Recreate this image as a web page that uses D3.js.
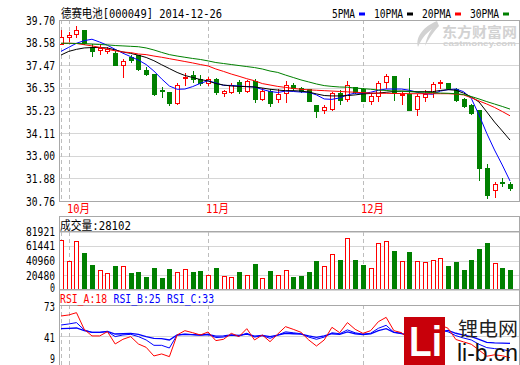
<!DOCTYPE html>
<html>
<head>
<meta charset="utf-8">
<script src="https://d3js.org/d3.v7.min.js"></script>
<style>
  body { margin: 0; background: #fff; }
  svg { display: block; }
</style>
</head>
<body>
<div id="chart"></div>
<script>

// daily bars, 2014-09-30 .. 2014-12-26
var opens = [38.51, 38.85, 39.01, 39.21, 38.35, 38.22, 38.15, 38.06, 37.46, 37.89,
  37.96, 37.23, 37.03, 36.24, 36.14, 35.59, 36.84, 36.97, 36.77, 36.60,
  36.79, 36.11, 36.16, 36.64, 36.21, 36.70, 35.78, 36.21, 35.81, 36.08,
  36.50, 36.34, 36.28, 35.49, 35.25, 35.32, 36.11, 35.78, 36.38, 36.28,
  35.70, 35.96, 36.62, 36.95, 35.98, 36.03, 35.30, 35.90, 36.13, 36.59,
  36.59, 36.29, 35.80, 35.50, 35.24, 32.38, 31.29, 31.71, 31.61];
var highs = [39.22, 39.11, 39.39, 39.21, 38.51, 38.45, 38.38, 38.15, 37.76, 37.99,
  37.97, 37.36, 37.03, 36.38, 36.14, 36.57, 37.07, 37.17, 36.97, 36.90,
  36.84, 36.24, 36.57, 36.74, 36.74, 36.77, 36.33, 36.28, 36.28, 36.67,
  36.57, 36.38, 36.31, 35.49, 35.49, 36.14, 36.24, 36.70, 36.41, 36.33,
  36.03, 36.69, 37.02, 36.95, 36.13, 36.85, 36.03, 36.23, 36.62, 36.75,
  36.59, 36.33, 35.83, 35.57, 35.24, 32.57, 31.68, 31.88, 31.68];
var lows = [38.51, 38.65, 38.85, 38.51, 37.91, 38.02, 38.06, 37.49, 36.90, 37.63,
  37.25, 36.99, 36.01, 35.91, 35.49, 35.55, 36.50, 36.64, 36.49, 36.49,
  36.04, 35.95, 36.08, 36.08, 36.14, 35.66, 35.75, 35.45, 35.66, 35.66,
  36.24, 36.14, 35.68, 34.92, 35.09, 35.25, 35.55, 35.71, 36.08, 35.70,
  35.57, 35.70, 36.36, 35.76, 35.54, 35.24, 35.01, 35.70, 35.90, 36.33,
  36.29, 35.70, 35.40, 35.07, 31.81, 30.92, 30.96, 31.52, 31.29];
var closes = [38.85, 38.97, 39.21, 38.58, 38.15, 38.32, 38.28, 37.49, 37.66, 37.72,
  37.29, 37.03, 36.04, 36.18, 35.59, 36.47, 36.90, 36.80, 36.60, 36.77,
  36.14, 36.19, 36.47, 36.21, 36.67, 35.81, 36.19, 35.62, 36.06, 36.47,
  36.34, 36.19, 35.71, 35.22, 35.42, 36.08, 35.75, 36.47, 36.14, 35.72,
  35.93, 36.59, 36.92, 36.09, 36.03, 35.27, 35.93, 36.03, 36.52, 36.65,
  36.36, 35.73, 35.47, 35.11, 32.40, 31.06, 31.58, 31.65, 31.42];

var volumes = [70350, 39700, 68950, 51260, 34130, 27160, 22980, 32740, 32740, 22980,
  24800, 17830, 29950, 16440, 28560, 24380, 28560, 24800, 25770, 21170,
  29950, 18810, 17410, 24380, 21170, 35520, 15600, 25770, 21170, 27160,
  17410, 18810, 24380, 39700, 33710, 50840, 41090, 72710, 41090, 34130,
  30920, 66170, 68540, 55020, 40680, 53630, 40680, 38310, 42070, 44850,
  32740, 38310, 27160, 41090, 57810, 66170, 37890, 29950, 28102];

// moving averages as shown on the chart
var ma5 = [38.15, 38.35, 38.55, 38.68, 38.75, 38.61, 38.45, 38.25, 38.06, 37.89,
  37.72, 37.50, 37.18, 36.79, 36.44, 36.28, 36.29, 36.41, 36.57, 36.70,
  36.59, 36.47, 36.47, 36.44, 36.41, 36.39, 36.27, 36.17, 36.12, 36.19,
  36.17, 36.14, 36.13, 36.00, 35.80, 35.78, 35.85, 36.00, 36.09, 36.07,
  36.13, 36.23, 36.29, 36.29, 36.29, 36.23, 36.13, 36.06, 36.03, 36.19,
  36.26, 36.29, 36.16, 35.83, 35.01, 34.10, 33.28, 32.54, 31.75];
var ma10 = [37.97, 38.15, 38.25, 38.32, 38.34, 38.34, 38.32, 38.22, 38.12, 38.05,
  37.96, 37.85, 37.69, 37.49, 37.30, 37.11, 36.96, 36.86, 36.76, 36.69,
  36.56, 36.49, 36.44, 36.42, 36.41, 36.39, 36.34, 36.28, 36.24, 36.21,
  36.21, 36.19, 36.14, 36.05, 35.97, 35.95, 35.95, 35.97, 36.00, 36.05,
  36.07, 36.09, 36.13, 36.17, 36.19, 36.18, 36.16, 36.16, 36.16, 36.22,
  36.26, 36.23, 36.09, 35.90, 35.65, 35.16, 34.66, 34.22, 33.77];
var ma20 = [38.55, 38.55, 38.54, 38.48, 38.42, 38.35, 38.25, 38.18, 38.12, 38.09,
  38.02, 37.99, 37.92, 37.86, 37.79, 37.72, 37.65, 37.58, 37.50, 37.43,
  37.28, 37.16, 37.03, 36.92, 36.80, 36.70, 36.56, 36.49, 36.42, 36.37,
  36.32, 36.28, 36.25, 36.23, 36.21, 36.19, 36.17, 36.15, 36.13, 36.11,
  36.09, 36.08, 36.08, 36.07, 36.07, 36.06, 36.06, 36.06, 36.06, 36.06,
  36.06, 36.04, 36.00, 35.86, 35.70, 35.55, 35.38, 35.18, 34.97];
var ma30 = [38.55, 38.55, 38.54, 38.53, 38.51, 38.49, 38.47, 38.44, 38.42, 38.40,
  38.38, 38.32, 38.22, 38.10, 37.99, 37.92, 37.86, 37.80, 37.75, 37.68,
  37.60, 37.55, 37.50, 37.45, 37.40, 37.35, 37.28, 37.18, 37.11, 36.98,
  36.86, 36.74, 36.64, 36.54, 36.46, 36.42, 36.39, 36.38, 36.34, 36.31,
  36.28, 36.24, 36.22, 36.19, 36.18, 36.16, 36.14, 36.13, 36.11, 36.09,
  36.08, 36.06, 36.02, 35.92, 35.80, 35.67, 35.55, 35.43, 35.30];

var rsiA = [61.5, 62.6, 65.0, 47.6, 40.7, 40.7, 45.2, 32.3, 37.2, 40.0,
  32.3, 28.8, 19.8, 21.9, 19.1, 41.7, 46.2, 44.1, 41.7, 44.8,
  35.8, 37.2, 43.4, 40.0, 48.3, 36.5, 41.7, 34.7, 42.7, 50.4,
  47.6, 44.5, 36.5, 30.2, 36.5, 49.7, 44.1, 54.6, 47.6, 43.4,
  46.2, 55.6, 60.1, 46.2, 44.1, 36.0, 44.0, 46.0, 50.0, 52.0,
  48.7, 37.0, 34.5, 32.0, 26.0, 19.5, 21.0, 20.0, 18.0];
var rsiB = [52.1, 53.2, 54.6, 46.9, 44.5, 44.5, 45.2, 40.0, 41.7, 42.4,
  40.0, 36.5, 30.9, 30.9, 28.1, 41.7, 42.7, 42.0, 41.5, 42.5,
  39.0, 39.5, 41.5, 40.5, 43.5, 39.5, 41.0, 38.2, 41.5, 45.0,
  44.0, 43.0, 39.5, 37.2, 39.5, 44.0, 43.0, 47.0, 44.0, 42.5,
  43.5, 48.7, 51.8, 44.5, 43.5, 40.0, 42.5, 43.5, 45.5, 47.0,
  45.0, 41.0, 38.5, 36.5, 32.0, 28.5, 27.5, 26.5, 25.0];
var rsiC = [48.3, 48.6, 49.0, 46.2, 44.5, 44.5, 45.5, 42.7, 43.0, 43.4,
  42.4, 40.0, 38.2, 37.8, 36.5, 41.7, 42.4, 42.0, 41.7, 42.2,
  40.5, 40.8, 41.7, 41.2, 42.7, 40.6, 41.2, 40.0, 41.5, 43.5,
  43.0, 42.5, 40.8, 39.3, 40.8, 43.0, 42.3, 45.0, 43.0, 42.2,
  42.8, 46.2, 48.3, 44.5, 43.0, 41.0, 42.3, 42.8, 44.0, 45.0,
  46.5, 43.5, 41.5, 40.0, 37.0, 34.0, 33.5, 33.2, 33.0];

var priceTicks = [39.70, 38.58, 37.47, 36.35, 35.23, 34.11, 33.00, 31.88, 30.76];
var volTicks = [81921, 61441, 40960, 20480, 0];
var rsiTicks = [73, 41, 9];

var dividerIdx = [0, 1, 19, 39];
var monthIdx = [1, 19, 39];
var monthLabels = ["10月", "11月", "12月"];

var maNames = ["5PMA", "10PMA", "20PMA", "30PMA"];
var maColors = ["#0000ff", "#000000", "#ff0000", "#008000"];

var titleText = "德赛电池[000049] 2014-12-26";

var RED = "#ff0000", GREEN = "#008000", BLUE = "#0000ff";
var FRAME = "#a8a8a8", GRID = "#d6d6d6", DASH = "#bdbdbd";
var FONT = "'DejaVu Sans Mono', 'Noto Sans CJK SC', monospace";

var W = 520, H = 365;
var L = 59, R = 519;

var svg = d3.select("#chart").append("svg")
    .attr("width", W)
    .attr("height", H)
    .style("font-family", FONT);

svg.append("rect").attr("width", W).attr("height", H).attr("fill", "#fff");

// scales
var x = d3.scalePoint().domain(d3.range(closes.length)).range([61, 510]);
var yP = d3.scaleLinear().domain([30.76, 39.70]).range([201, 20]);
var yV = d3.scaleLinear().domain([0, 81921]).range([289.5, 231.5]);
var yR = d3.scaleLinear().domain([9, 73]).range([366.3, 305]);

// text of a pixel font: wide chars 12px, narrow ones 6px
function textW(s) {
  var w = 0;
  for (var c of s) w += c.charCodeAt(0) > 255 ? 12 : 6;
  return w;
}
function label(g, s, tx, ty, color, anchor) {
  return g.append("text")
    .attr("x", tx).attr("y", ty)
    .attr("fill", color || "#000")
    .attr("text-anchor", anchor || "start")
    .attr("font-size", 12)
    .attr("textLength", textW(s) - 1)
    .attr("lengthAdjust", "spacingAndGlyphs")
    .text(s);
}
function px(i) { return Math.round(x(i)); }

var grid = svg.append("g").attr("shape-rendering", "crispEdges");

// horizontal gridlines
priceTicks.forEach(function(t) {
  grid.append("line").attr("x1", L).attr("x2", R)
    .attr("y1", Math.round(yP(t)) + 0.5).attr("y2", Math.round(yP(t)) + 0.5)
    .attr("stroke", GRID);
});
volTicks.forEach(function(t) {
  grid.append("line").attr("x1", L).attr("x2", R)
    .attr("y1", Math.round(yV(t)) + 0.5).attr("y2", Math.round(yV(t)) + 0.5)
    .attr("stroke", GRID);
});
grid.append("line").attr("x1", L).attr("x2", R)
  .attr("y1", Math.round(yR(41)) + 0.5).attr("y2", Math.round(yR(41)) + 0.5)
  .attr("stroke", GRID);

// month dividers in every panel
var spans = [[20, 201], [232, 289], [305, 365]];
dividerIdx.forEach(function(i) {
  spans.forEach(function(s) {
    grid.append("line")
      .attr("x1", px(i) + 0.5).attr("x2", px(i) + 0.5)
      .attr("y1", s[0]).attr("y2", s[1])
      .attr("stroke", DASH).attr("stroke-dasharray", "4,3");
  });
});

// eastmoney watermark, inside the price panel
var wm = svg.append("g").attr("fill", "#d2d2d2");
wm.append("path").attr("d", "M437,21 C424,26 415,37 418,47 C421,40 425,34 432,29 C428,34 426,40 425,46 C430,37 434,31 439,26 Z");
wm.append("text").attr("x", 442).attr("y", 36.5)
  .attr("font-size", 14).attr("font-weight", "bold")
  .attr("font-family", "'Noto Sans CJK SC', sans-serif")
  .attr("textLength", 75).attr("lengthAdjust", "spacingAndGlyphs")
  .text("东方财富网");
wm.append("text").attr("x", 443).attr("y", 46)
  .attr("font-size", 8).attr("font-weight", "bold")
  .attr("font-family", "'Liberation Sans', sans-serif")
  .attr("textLength", 73).attr("lengthAdjust", "spacingAndGlyphs")
  .text("eastmoney.com");

// candles
var cg = svg.append("g").attr("shape-rendering", "crispEdges");
closes.forEach(function(c, i) {
  var o = opens[i], up = c >= o, cx = px(i);
  var col = up ? RED : GREEN;
  cg.append("line")
    .attr("x1", cx + 0.5).attr("x2", cx + 0.5)
    .attr("y1", Math.round(yP(highs[i]))).attr("y2", Math.round(yP(lows[i])) + 1)
    .attr("stroke", col);
  var top = Math.round(yP(Math.max(o, c))), bot = Math.round(yP(Math.min(o, c)));
  if (up) {
    cg.append("rect")
      .attr("x", cx - 1.5).attr("y", top + 0.5)
      .attr("width", 4).attr("height", Math.max(bot - top, 1))
      .attr("fill", "#fff").attr("stroke", RED);
  } else {
    cg.append("rect")
      .attr("x", cx - 2).attr("y", top)
      .attr("width", 5).attr("height", Math.max(bot - top, 1) + 1)
      .attr("fill", GREEN);
  }
});

// moving average lines
var maLine = d3.line().x(function(d, i) { return x(i); }).y(function(d) { return yP(d); });
[ma5, ma10, ma20, ma30].forEach(function(s, k) {
  svg.append("path").datum(s)
    .attr("fill", "none")
    .attr("stroke", maColors[k])
    .attr("stroke-width", 1)
    .attr("d", maLine);
});

// volume bars
var vg = svg.append("g").attr("shape-rendering", "crispEdges");
volumes.forEach(function(v, i) {
  var up = closes[i] >= opens[i], cx = px(i);
  var top = Math.round(yV(v)), bot = Math.round(yV(0));
  if (up) {
    vg.append("rect")
      .attr("x", cx - 1.5).attr("y", top + 0.5)
      .attr("width", 4).attr("height", bot - top - 1)
      .attr("fill", "#fff").attr("stroke", RED);
  } else {
    vg.append("rect")
      .attr("x", cx - 2).attr("y", top)
      .attr("width", 5).attr("height", bot - top)
      .attr("fill", GREEN);
  }
});

// RSI lines
svg.append("clipPath").attr("id", "rsiClip")
  .append("rect").attr("x", L).attr("y", 305).attr("width", R - L).attr("height", 60);
var rsiLine = d3.line().x(function(d, i) { return x(i); }).y(function(d) { return yR(d); });
var rg = svg.append("g").attr("clip-path", "url(#rsiClip)");
[[rsiC, BLUE, 1.3], [rsiB, BLUE, 1], [rsiA, RED, 1]].forEach(function(s) {
  rg.append("path").datum(s[0])
    .attr("fill", "none")
    .attr("stroke", s[1])
    .attr("stroke-width", s[2])
    .attr("d", rsiLine);
});

// panel frames
var fr = svg.append("g").attr("shape-rendering", "crispEdges")
  .attr("stroke", FRAME).attr("fill", "none");
fr.append("rect").attr("x", L + 0.5).attr("y", 20.5).attr("width", R - L).attr("height", 181);
fr.append("rect").attr("x", L + 0.5).attr("y", 216.5).attr("width", R - L).attr("height", 73);
fr.append("line").attr("x1", L).attr("x2", R).attr("y1", 231.5).attr("y2", 231.5);
fr.append("line").attr("x1", L + 0.5).attr("x2", L + 0.5).attr("y1", 289).attr("y2", H);
fr.append("line").attr("x1", R + 0.5).attr("x2", R + 0.5).attr("y1", 289).attr("y2", H);
fr.append("line").attr("x1", L).attr("x2", R).attr("y1", 305.5).attr("y2", 305.5);

// axis labels
var ax = svg.append("g");
priceTicks.forEach(function(t) {
  label(ax, t.toFixed(2), 55, yP(t) + 4.5, "#000", "end");
});
volTicks.forEach(function(t) {
  var ty = t === 0 ? yV(t) - 2.5 : yV(t);
  label(ax, String(t), 55, ty + 4.5, "#000", "end");
});
rsiTicks.forEach(function(t) {
  var ty = t === 9 ? 358.5 : yR(t) + 1.5;
  label(ax, String(t), 55, ty + 4.5, "#000", "end");
});
monthIdx.forEach(function(i, k) {
  label(ax, monthLabels[k], px(i) - 2, 213, RED);
});

// titles and legend
label(svg, titleText, 61, 18);
var lx = [332, 374, 422, 470];
maNames.forEach(function(n, k) {
  label(svg, n, lx[k], 18);
  svg.append("rect")
    .attr("x", lx[k] + textW(n) + 3).attr("y", 12.5)
    .attr("width", 6).attr("height", 3)
    .attr("fill", maColors[k]);
});
label(svg, "成交量:" + volumes[volumes.length - 1], 60, 230);
var rsiTitles = [["RSI_A:18", RED], ["RSI_B:25", BLUE], ["RSI_C:33", BLUE]];
rsiTitles.forEach(function(t, k) {
  label(svg, t[0], 60 + k * 53.5, 303, t[1]);
});

// li-b.cn watermark
var lb = svg.append("g");
lb.append("rect").attr("x", 404).attr("y", 317).attr("width", 41).attr("height", 48)
  .attr("fill", "#c8000a");
lb.append("text").attr("x", 409).attr("y", 356)
  .attr("font-size", 42).attr("font-weight", "bold")
  .attr("font-family", "'Liberation Sans', sans-serif")
  .attr("fill", "#fff")
  .attr("textLength", 33).attr("lengthAdjust", "spacingAndGlyphs")
  .text("Li");
lb.append("text").attr("x", 458).attr("y", 336)
  .attr("font-size", 19)
  .attr("font-family", "'Noto Sans CJK SC', sans-serif")
  .attr("fill", "#222")
  .attr("textLength", 60).attr("lengthAdjust", "spacingAndGlyphs")
  .text("锂电网");
lb.append("text").attr("x", 457).attr("y", 361)
  .attr("font-size", 23)
  .attr("font-family", "'Liberation Sans', sans-serif")
  .attr("fill", "#111")
  .attr("textLength", 61).attr("lengthAdjust", "spacingAndGlyphs")
  .text("li-b.cn");

</script>
</body>
</html>
